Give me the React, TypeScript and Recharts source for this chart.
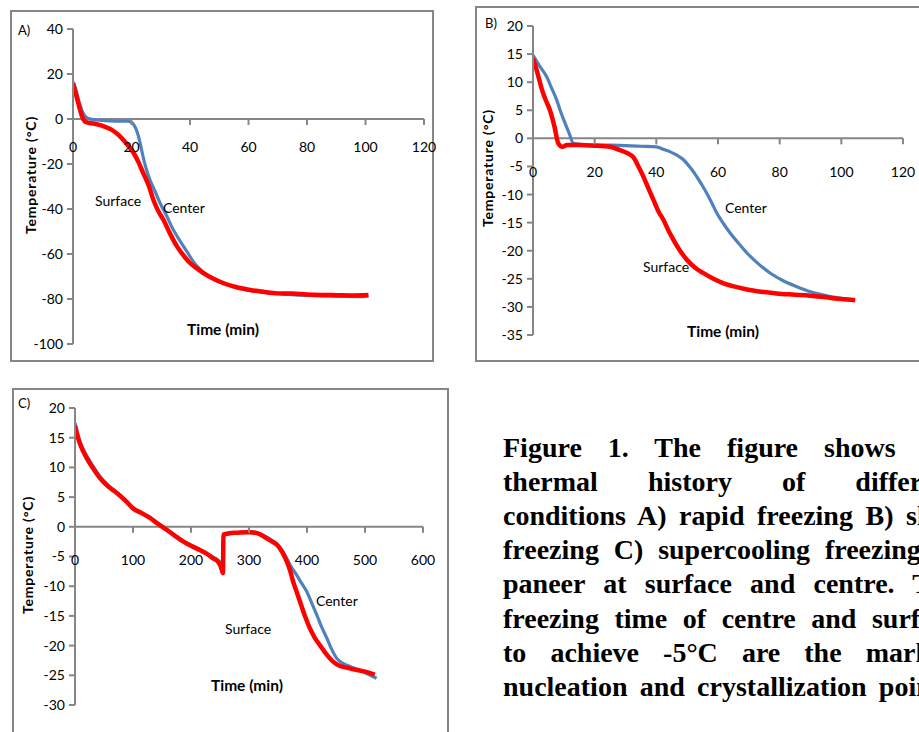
import React from "react";
import { LineChart, Line, XAxis, YAxis, ReferenceLine, ReferenceDot } from "recharts";

// Panel A - rapid freezing
const aSurfaceTime = [0, 1, 2, 3, 4, 5, 7, 9, 11, 13, 16, 18, 20.7, 22.5, 24, 26, 27.5, 29, 31, 33, 35.5, 38, 40, 42.5, 44.6, 48, 51.5, 56, 60.6, 65, 70, 75, 80, 85, 90, 95, 101];
const aSurfaceTemp = [16, 11, 6, 1.5, -1, -1.6, -2, -2.6, -3.5, -4.6, -7.6, -10.5, -15, -19.5, -24, -30, -36, -40.5, -45, -50.5, -56.5, -61, -64, -66.5, -68.5, -71, -73, -74.8, -76, -76.8, -77.5, -77.6, -78, -78.2, -78.3, -78.4, -78.2];
const aCenterTime = [0, 1, 2, 3, 4, 5, 7, 10, 13, 16, 18.5, 20, 21, 22, 23, 24, 25, 26, 28, 30, 32, 34, 36.5, 39, 41.2, 44, 48, 52, 56, 61, 66, 72, 78, 85, 92, 98, 101];
const aCenterTemp = [16.5, 13, 8, 4, 1.5, 0.3, -0.3, -0.6, -0.9, -1, -1, -1.5, -3, -6, -11, -17, -22, -26, -32, -38, -43, -48.5, -54, -59, -63.5, -67.5, -70.8, -73.2, -75, -76.3, -77.2, -77.8, -78.3, -78.6, -78.8, -79, -78.6];

// Panel B - slow freezing
const bSurfaceTime = [0, 1, 2, 3, 4, 5.5, 7, 8.2, 9.5, 11, 15, 20, 25, 28.2, 30.5, 32.6, 34.2, 35.8, 37.5, 39.1, 40.7, 42.3, 44, 45.6, 47.7, 49.9, 52.5, 55.3, 58.5, 61.8, 65.5, 69.4, 74, 79, 84, 90, 95, 100, 104.5];
const bSurfaceTemp = [14.2, 12.5, 10.5, 8.5, 7, 5, 2, -0.9, -1.5, -1.2, -1.2, -1.3, -1.5, -2.1, -2.6, -3.4, -5, -6.8, -9, -11, -13, -14.5, -16.5, -18.1, -20, -21.6, -23, -24, -25, -25.8, -26.4, -26.9, -27.3, -27.6, -27.8, -28, -28.3, -28.6, -28.8];
const bCenterTime = [0, 2, 4.4, 6, 7.7, 9, 10.4, 11.8, 13.1, 16, 20, 25, 30, 35, 40, 42.5, 44.5, 46.7, 48.8, 51, 53.1, 54.8, 56.4, 58, 59.6, 61.8, 64, 66.7, 69.4, 73, 77, 81, 85.6, 90, 94.3, 99, 104];
const bCenterTemp = [14.8, 13, 11, 9, 6.8, 4.7, 2.7, 0.8, -0.9, -1.1, -1.2, -1.2, -1.3, -1.4, -1.5, -2, -2.4, -3, -3.8, -5.2, -6.8, -8.3, -9.8, -11.5, -13.3, -15.2, -16.9, -18.7, -20.4, -22.3, -24, -25.3, -26.4, -27.3, -27.9, -28.4, -28.8];

// Panel C - supercooling freezing
const cSurfaceTime = [0, 5, 10, 20, 30, 43, 57, 72, 86, 100, 115, 129, 143, 158, 172, 187, 200, 215, 228, 238, 246, 250, 253, 255, 256, 265, 280, 300, 315, 330, 340, 348, 357, 365, 371, 376, 382, 388, 396, 405, 413, 422, 433, 445, 456, 468, 480, 491, 505, 517];
const cSurfaceTemp = [17, 15, 13.6, 11.6, 10, 8.2, 6.8, 5.7, 4.5, 3.1, 2.3, 1.5, 0.5, -0.5, -1.5, -2.5, -3.2, -3.9, -4.6, -5.3, -5.8, -6.4, -7.2, -7.8, -1.3, -1.1, -1, -0.9, -1.1, -1.9, -2.5, -3, -4.2, -5.8, -7.4, -9.2, -10.9, -12.6, -14.9, -17.1, -18.6, -19.9, -21.4, -22.7, -23.4, -23.7, -24, -24.2, -24.5, -24.9];
const cCenterTime = [0, 5, 10, 20, 30, 43, 57, 72, 86, 100, 115, 129, 143, 158, 172, 187, 200, 215, 228, 238, 246, 250, 253, 255, 256, 265, 280, 300, 315, 330, 340, 348, 357, 365, 372, 382, 390, 399.5, 408, 416.7, 425, 434, 442, 451, 462, 474, 490, 505, 520];
const cCenterTemp = [17.5, 15.6, 14, 12, 10.4, 8.5, 7, 5.8, 4.6, 3.2, 2.4, 1.6, 0.6, -0.4, -1.4, -2.4, -3.1, -3.8, -4.5, -5.1, -5.6, -6, -6.8, -7.2, -1.5, -1.2, -1, -0.8, -1, -1.7, -2.3, -2.9, -4, -5.3, -6.6, -8.1, -9.4, -10.9, -12.8, -14.8, -16.8, -18.7, -20.5, -22.1, -23, -23.5, -24.1, -24.8, -25.5];

// axis ticks
const aXTicks = [0, 20, 40, 60, 80, 100, 120];
const aYTicks = [-100, -80, -60, -40, -20, 0, 20, 40];
const bXTicks = [0, 20, 40, 60, 80, 100, 120];
const bYTicks = [-35, -30, -25, -20, -15, -10, -5, 0, 5, 10, 15, 20];
const cXTicks = [0, 100, 200, 300, 400, 500, 600];
const cYTicks = [-30, -25, -20, -15, -10, -5, 0, 5, 10, 15, 20];

// caption, one justified line each (the right part is cut off by the page)
const captionLines = [
  "Figure 1. The figure shows the",
  "thermal history of different",
  "conditions A) rapid freezing B) slow",
  "freezing C) supercooling freezing of",
  "paneer at surface and centre. The",
  "freezing time of centre and surface",
  "to achieve -5°C are the marked",
  "nucleation and crystallization points.",
];

const AXIS = "#868686";
const RED = "#ff0000";
const BLUE = "#4f81bd";
const FONT = "Lato, sans-serif";

type Pt = { t: number; v: number };
const zip = (ts: number[], vs: number[]): Pt[] => ts.map((t, i) => ({ t, v: vs[i] }));

type PanelProps = {
  left: number;
  top: number;
  width: number;
  height: number;
  margin: { top: number; right: number; bottom: number; left: number };
  yWidth: number;
  xTicks: number[];
  yTicks: number[];
  surface: Pt[];
  center: Pt[];
  labelOffset: number;
};

function Panel({ left, top, width, height, margin, yWidth, xTicks, yTicks, surface, center, labelOffset }: PanelProps) {
  const xDomain = [xTicks[0], xTicks[xTicks.length - 1]];
  const yDomain = [yTicks[0], yTicks[yTicks.length - 1]];
  return (
    <div style={{ position: "absolute", left, top }}>
      <LineChart width={width} height={height} margin={margin}>
        <XAxis type="number" dataKey="t" domain={xDomain} ticks={xTicks} hide allowDataOverflow />
        <YAxis
          type="number"
          dataKey="v"
          domain={yDomain}
          ticks={yTicks}
          interval={0}
          width={yWidth}
          axisLine={{ stroke: AXIS, strokeWidth: 2 }}
          tickLine={{ stroke: AXIS, strokeWidth: 2 }}
          tickSize={6}
          tickMargin={4}
          tick={{ fill: "#000", fontSize: 14, fontFamily: FONT }}
        />
        {/* excel style: the x axis crosses at 0 */}
        <ReferenceLine y={0} stroke={AXIS} strokeWidth={2} />
        {xTicks.map((t) => (
          <ReferenceDot
            key={t}
            x={t}
            y={0}
            r={0}
            ifOverflow="visible"
            shape={(p: any) => (
              <g>
                <line x1={p.cx} x2={p.cx} y1={p.cy} y2={p.cy + 6} stroke={AXIS} strokeWidth={2} />
                <text x={p.cx} y={p.cy + labelOffset} textAnchor="middle" fontSize={14} fontFamily={FONT} fill="#000">
                  {t}
                </text>
              </g>
            )}
          />
        ))}
        <Line data={center} dataKey="v" type="monotone" stroke={BLUE} strokeWidth={3.2} dot={false} isAnimationActive={false} />
        <Line data={surface} dataKey="v" type="monotone" stroke={RED} strokeWidth={4.5} dot={false} isAnimationActive={false} />
      </LineChart>
    </div>
  );
}

const boxStyle = (left: number, top: number, width: number, height: number): React.CSSProperties => ({
  position: "absolute",
  left,
  top,
  width,
  height,
  border: `2px solid ${AXIS}`,
  boxSizing: "border-box",
});

export default function App() {
  const txt = { fontFamily: FONT, fontSize: 14, fill: "#000" };
  const yTitle = { fontFamily: FONT, fontSize: 14, fontWeight: 700, fill: "#000", letterSpacing: 0.8 };
  const xTitle = { fontFamily: FONT, fontSize: 15.5, fontWeight: 700, fill: "#000" };
  return (
    <div style={{ position: "fixed", left: 0, top: 0, width: 919, height: 732, overflow: "hidden", background: "#fff" }}>
      <div style={boxStyle(10, 10, 424, 352)} />
      <div style={boxStyle(475, 6, 500, 356)} />
      <div style={boxStyle(12, 388, 437, 400)} />

      <Panel
        left={0}
        top={0}
        width={440}
        height={370}
        margin={{ top: 29, right: 16, bottom: 26, left: 23 }}
        yWidth={50}
        xTicks={aXTicks}
        yTicks={aYTicks}
        surface={zip(aSurfaceTime, aSurfaceTemp)}
        center={zip(aCenterTime, aCenterTemp)}
        labelOffset={33}
      />
      <Panel
        left={470}
        top={0}
        width={449}
        height={370}
        margin={{ top: 26, right: 16, bottom: 35, left: 18 }}
        yWidth={45}
        xTicks={bXTicks}
        yTicks={bYTicks}
        surface={zip(bSurfaceTime, bSurfaceTemp)}
        center={zip(bCenterTime, bCenterTemp)}
        labelOffset={39}
      />
      <Panel
        left={0}
        top={375}
        width={460}
        height={357}
        margin={{ top: 33, right: 37, bottom: 27, left: 25 }}
        yWidth={50}
        xTicks={cXTicks}
        yTicks={cYTicks}
        surface={zip(cSurfaceTime, cSurfaceTemp)}
        center={zip(cCenterTime, cCenterTemp)}
        labelOffset={38}
      />

      <svg width={919} height={732} style={{ position: "absolute", left: 0, top: 0, pointerEvents: "none" }}>
        {/* panel A */}
        <text x={18} y={35} {...txt} fontSize={13}>A)</text>
        <text x={36} y={175} {...yTitle} textAnchor="middle" transform="rotate(-90 36 175)">Temperature (°C)</text>
        <text x={223} y={335} {...xTitle} textAnchor="middle">Time (min)</text>
        <text x={95} y={206} {...txt}>Surface</text>
        <text x={163} y={213} {...txt}>Center</text>
        {/* panel B */}
        <text x={485} y={28} {...txt} fontSize={13}>B)</text>
        <text x={493} y={168} {...yTitle} textAnchor="middle" transform="rotate(-90 493 168)">Temperature (°C)</text>
        <text x={723} y={337} {...xTitle} textAnchor="middle">Time (min)</text>
        <text x={643} y={272} {...txt}>Surface</text>
        <text x={725} y={213} {...txt}>Center</text>
        {/* panel C */}
        <text x={18} y={408} {...txt} fontSize={13}>C)</text>
        <text x={33} y={555} {...yTitle} textAnchor="middle" transform="rotate(-90 33 555)">Temperature (°C)</text>
        <text x={247} y={691} {...xTitle} textAnchor="middle">Time (min)</text>
        <text x={225} y={634} {...txt}>Surface</text>
        <text x={316} y={606} {...txt}>Center</text>
      </svg>

      {captionLines.map((line, i) => (
        <div
          key={i}
          style={{
            position: "absolute",
            left: 503,
            top: 430.6 + i * 34.2,
            width: 456,
            fontFamily: "'Liberation Serif', 'Times New Roman', serif",
            fontWeight: 700,
            fontSize: 28,
            lineHeight: "34px",
            textAlign: "justify",
            textAlignLast: "justify",
            color: "#000",
          }}
        >
          {line}
        </div>
      ))}
    </div>
  );
}
